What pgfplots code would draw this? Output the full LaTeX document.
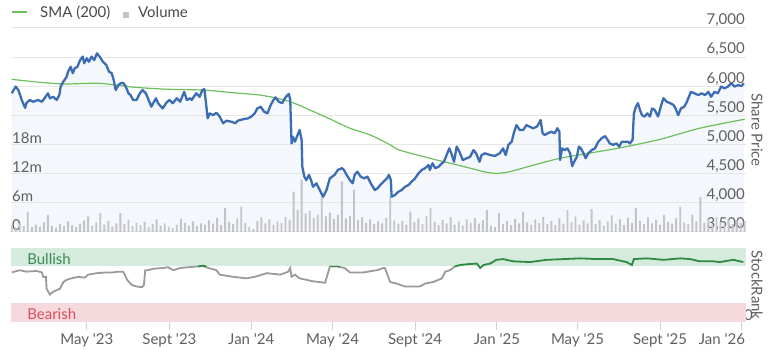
\documentclass[border=0pt]{standalone}
\usepackage{fontspec}
\setmainfont{Lato}
\usepackage{pgfplots}
\pgfplotsset{compat=1.18}
\usepackage{pgfplotstable}

\definecolor{priceblue}{HTML}{3C6DB4}
\definecolor{smagreen}{HTML}{6CC05C}
\definecolor{volgray}{HTML}{C4C4C8}
\definecolor{fillblue}{HTML}{F4F7FB}
\definecolor{gridgray}{HTML}{E6E6E6}
\definecolor{labelgray}{HTML}{5F5F5F}
\definecolor{legendtext}{HTML}{4A4A4A}
\definecolor{bullfill}{HTML}{D5EBDD}
\definecolor{bulltext}{HTML}{3B8A52}
\definecolor{bearfill}{HTML}{F6D9DC}
\definecolor{beartext}{HTML}{D9505C}
\definecolor{rankgreen}{HTML}{2F8A43}
\definecolor{rankgray}{HTML}{9A9A9A}
\newcommand\q{\textquotesingle}

\pgfplotstableread{
day price
8 5880
14 5995
18 5935
23 5765
28 5630
30 5715
35 5765
40 5735
47 5765
53 5735
57 5795
62 5880
65 5795
70 5820
75 5765
79 5850
81 5995
85 6080
90 6165
92 6250
96 6335
99 6225
102 6310
106 6335
110 6450
114 6510
116 6395
120 6480
123 6420
127 6510
131 6450
135 6565
139 6510
144 6420
149 6365
153 6250
157 6225
160 6110
163 5935
167 6020
170 6050
174 6060
178 5995
182 5880
185 5850
189 5765
194 5765
199 5880
203 5935
208 5880
211 5795
216 5650
220 5735
223 5795
226 5710
233 5620
238 5710
243 5765
248 5710
254 5795
259 5735
265 5905
269 5765
274 5795
276 5765
283 5880
288 5820
292 5935
295 5950
297 5765
300 5450
303 5535
308 5505
313 5545
318 5480
323 5365
328 5410
336 5390
341 5365
345 5410
353 5435
360 5450
365 5480
370 5535
374 5620
379 5650
384 5565
389 5535
394 5680
398 5765
401 5810
406 5735
411 5710
415 5795
419 5850
421 5870
423 5765
425 5020
427 5135
430 5050
434 5165
437 5250
440 5080
441 4620
444 4450
447 4390
451 4480
454 4390
457 4275
462 4335
467 4220
472 4105
477 4220
482 4420
489 4480
494 4565
500 4595
503 4565
507 4480
512 4390
516 4335
519 4480
523 4535
528 4450
533 4420
538 4450
543 4335
549 4220
553 4250
557 4305
562 4365
567 4420
570 4480
573 4390
574 4105
579 4135
584 4190
589 4220
594 4275
599 4305
604 4365
609 4420
614 4505
619 4565
624 4595
629 4650
631 4565
635 4680
639 4595
644 4620
649 4680
652 4705
656 4820
660 4935
663 4850
667 4705
671 4965
675 4880
680 4735
686 4765
691 4790
696 4905
700 4850
705 4705
708 4820
713 4850
721 4820
728 4805
735 4850
740 4935
744 4820
748 4995
753 5050
756 5195
760 5335
765 5250
770 5250
775 5335
780 5305
785 5280
790 5305
792 5335
796 5420
799 5195
802 5165
807 5195
812 5220
817 5195
821 5280
824 5220
825 4735
828 4935
832 4905
836 4935
840 4850
843 4630
846 4705
850 4790
853 4965
856 4935
860 4850
863 4765
867 4850
872 4905
877 4935
882 5050
887 5110
892 5145
896 5080
899 5020
904 4995
909 5020
913 4965
917 5050
922 5050
926 5050
929 5020
933 5080
935 5535
938 5650
941 5710
944 5595
947 5505
951 5480
955 5535
959 5480
962 5620
966 5595
971 5480
975 5650
979 5795
984 5735
989 5710
994 5680
997 5620
1001 5505
1005 5620
1010 5650
1014 5735
1016 5795
1020 5905
1025 5880
1031 5850
1036 5880
1041 5850
1046 5905
1050 5820
1055 5905
1060 5880
1065 5995
1070 5965
1075 5995
1080 6050
1085 5995
1090 6020
1095 6005
1099 6050
}\pricedata

\pgfplotstableread{
day sma
8 6120
40 6080
85 6040
139 6050
189 5985
239 5950
293 5935
338 5890
378 5850
393 5820
423 5735
452 5595
482 5440
512 5280
542 5165
572 4995
586 4905
631 4765
661 4680
691 4595
711 4535
730 4505
750 4535
780 4630
825 4765
870 4855
917 4950
974 5090
1033 5280
1100 5435
}\smadata

\pgfplotstableread{
day vol
8 1.4
14 0.9
20 1.8
26 1.2
32 4.2
38 1.0
44 1.5
50 1.1
56 2.0
62 3.5
68 1.3
74 0.9
80 1.6
86 1.2
92 2.2
98 1.4
104 1.0
110 1.7
116 2.4
122 3.2
128 1.3
134 2.0
140 3.9
146 1.5
152 2.3
158 1.1
164 1.8
170 3.9
176 1.6
182 2.5
188 1.2
194 1.9
200 1.4
206 2.1
212 1.0
218 1.6
224 2.6
230 1.3
236 1.8
242 1.1
248 0.8
254 1.5
260 2.7
266 1.9
272 1.3
278 2.2
284 1.2
290 1.8
296 1.5
302 2.4
308 1.7
314 2.9
320 1.4
326 4.9
332 2.1
338 1.6
344 2.8
350 5.2
356 1.9
362 1.0
368 0.6
374 2.3
380 3.0
386 1.8
392 2.6
398 1.5
404 2.2
410 1.9
416 3.1
422 2.5
428 8.3
434 4.6
440 10.8
446 3.8
452 4.4
458 2.9
464 3.6
470 7.3
476 3.2
482 4.0
488 2.7
494 3.5
500 10.4
506 2.8
512 3.3
518 8.7
524 2.4
530 3.0
536 1.9
542 2.6
548 1.6
554 2.2
560 1.8
566 2.9
572 7.3
578 2.4
584 1.7
590 2.3
596 1.5
602 4.2
608 2.0
614 2.8
620 1.6
626 3.3
632 4.9
638 2.1
644 1.4
650 2.5
656 1.8
662 3.0
668 1.5
674 2.2
680 1.3
686 2.6
692 1.9
698 2.9
704 1.7
710 2.4
716 4.5
722 1.3
728 1.0
734 3.9
740 1.6
746 2.3
752 1.4
758 2.7
764 1.8
770 4.2
776 2.0
782 1.5
788 2.6
794 1.9
800 3.1
806 1.6
812 2.3
818 1.4
824 2.8
830 1.7
836 4.5
842 2.0
848 3.2
854 1.5
860 2.4
866 1.8
872 4.7
878 1.6
884 2.5
890 1.3
896 2.2
902 3.4
908 1.7
914 2.6
920 1.4
926 2.9
932 1.9
938 4.9
944 2.3
950 1.6
956 3.0
962 1.8
968 2.5
974 1.5
980 3.5
986 2.1
992 1.7
998 2.8
1004 5.2
1010 2.0
1016 1.6
1022 3.6
1028 2.2
1034 7.2
1040 1.9
1046 2.7
1052 1.5
1058 3.0
1064 2.1
1070 1.8
1076 2.6
1082 1.6
1088 2.4
1094 1.9
1100 2.3
}\voldata

\pgfplotstableread{
day rank
8 67
20 70
30 68
45 69
53 67
55 61
59 61
60 45
65 37
70 41
80 45
85 54
90 57
97 59
107 61
117 60
122 64
135 66
149 67
159 67
167 68
174 68
177 63
180 57
187 50
194 48
202 47
205 50
207 70
211 70
219 72
234 73
241 74
249 70
259 73
271 74
284 75
293 76
301 73
313 70
318 64
338 61
358 59
370 61
388 66
408 64
420 68
423 73
425 61
430 64
437 59
457 55
475 53
482 75
492 75
504 73
512 67
532 67
552 70
562 73
564 73
569 61
572 54
581 52
594 48
606 48
616 48
624 52
636 54
649 59
654 68
661 70
668 75
}\rankgray

\pgfplotstableread{
day rank
668 75
676 77
686 78
701 79
706 73
711 77
721 79
730 84
740 85
755 82
780 81
805 84
830 85
855 86
880 85
904 85
924 81
932 77
935 85
954 86
979 84
1004 86
1019 85
1033 82
1053 82
1063 81
1083 84
1098 81
}\rankgreen

\pgfplotsset{
  base/.style={
    scale only axis, width=735pt, height=204pt,
    xmin=7, xmax=1102,
    enlargelimits=false,
    axis line style={draw=none},
    tick style={draw=none},
    tick label style={font=\fontsize{15}{18}\selectfont, text=labelgray},
    /pgf/number format/assume math mode=true,
    xtick=\empty,
  },
}

\begin{document}
\begin{tikzpicture}[x=1pt,y=1pt]
\path[use as bounding box] (0,0) rectangle (769,351);

% price fill + grid + right labels
\begin{axis}[base, at={(11pt,119pt)}, anchor=south west,
  ymin=3500, ymax=7000, axis on top,
  ytick={3500,4000,...,7000}, ymajorgrids,
  grid style={gridgray, line width=1pt},
  yticklabel pos=right,
  yticklabel style={anchor=south east, inner sep=1pt,
    /pgf/number format/1000 sep={,}},
]
\addplot[fill=fillblue, draw=none] table[x=day, y=price] {\pricedata} \closedcycle;
\end{axis}

% volume
\begin{axis}[base, at={(11pt,119pt)}, anchor=south west,
  ymin=0, ymax=42, ybar, bar width=1.9pt,
  ytick={0,6,12,18}, yticklabels={0,6m,12m,18m},
  yticklabel style={anchor=south west, inner sep=1pt},
]
\addplot[fill=volgray, draw=none] table[x=day, y=vol] {\voldata};
\end{axis}

% price + SMA
\begin{axis}[base, at={(11pt,119pt)}, anchor=south west,
  ymin=3500, ymax=7000, ytick=\empty,
]
\addplot[smagreen, line width=1.2pt, smooth] table[x=day, y=sma] {\smadata};
\addplot[priceblue, line width=2.3pt, line join=round] table[x=day, y=price] {\pricedata};
\end{axis}

% StockRank panel
\begin{axis}[base, height=74pt, at={(11pt,29pt)}, anchor=south west,
  ymin=0, ymax=100, ytick={0},
  yticklabel pos=right,
  yticklabel style={anchor=south east, inner sep=1pt},
  xtick={120,243,365,486,609,731,851,974,1096},
  xticklabels={May \q23, Sept \q23, Jan \q24, May \q24, Sept \q24, Jan \q25, May \q25, Sept \q25, {\makebox[6pt][r]{Jan \q26}}},
  xtick pos=bottom, tick align=outside, major tick length=8pt,
  x tick style={draw=gridgray!80!gray, line width=1pt},
  clip=false,
]
\addplot[fill=bullfill, draw=none] coordinates {(7,75) (1102,75) (1102,100) (7,100)} -- cycle;
\addplot[fill=bearfill, draw=none] coordinates {(7,0) (1102,0) (1102,25) (7,25)} -- cycle;
\addplot[rankgray, line width=1.8pt] table[x=day, y=rank] {\rankgray};
\addplot[rankgreen, line width=1.8pt] table[x=day, y=rank] {\rankgreen};
\addplot[rankgreen, line width=1.8pt] coordinates {(286,75) (293,76) (298,75)};
\addplot[rankgreen, line width=1.8pt] coordinates {(482,75) (492,75) (497,75)};
\node[anchor=base west, text=bulltext, font=\fontsize{15}{18}\selectfont] at (axis cs:26,78) {Bullish};
\node[anchor=base west, text=beartext, font=\fontsize{15}{18}\selectfont] at (axis cs:26,3) {Bearish};
\end{axis}

% legend
\draw[smagreen, line width=1.5pt] (12,339) -- (27,339);
\node[anchor=base west, inner sep=0pt, text=legendtext, font=\fontsize{15}{18}\selectfont] at (40,333) {SMA (200)};
\fill[volgray] (123,333.3) rectangle (129,339.3);
\node[anchor=base west, inner sep=0pt, text=legendtext, font=\fontsize{15}{18}\selectfont] at (138,333) {Volume};

\node[rotate=-90, text=labelgray, font=\fontsize{15}{18}\selectfont] at (757,221) {Share Price};
\node[rotate=-90, text=labelgray, font=\fontsize{15}{18}\selectfont] at (757,66) {StockRank};
\end{tikzpicture}
\end{document}
